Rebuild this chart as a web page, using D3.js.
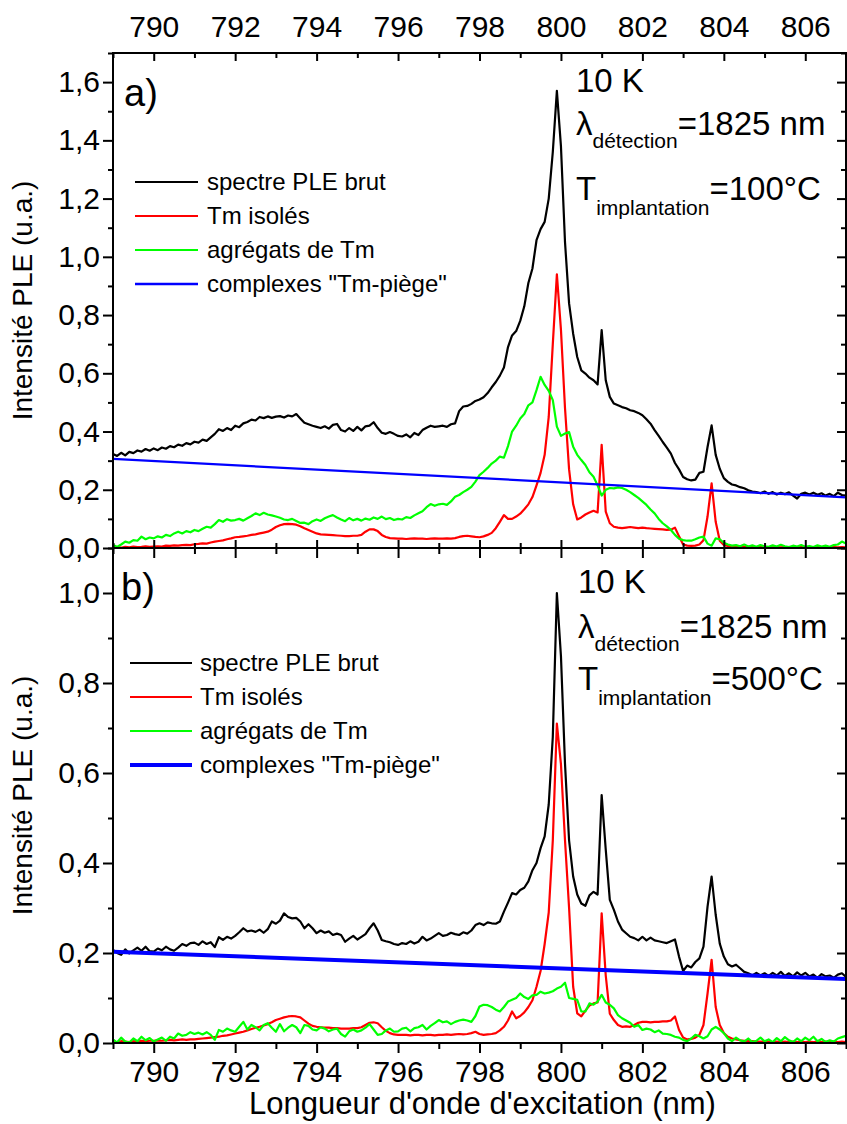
<!DOCTYPE html>
<html><head><meta charset="utf-8">
<script src="https://cdn.jsdelivr.net/npm/d3@7"></script>
<style>
body{margin:0;background:#fff}
svg text{font-family:"Liberation Sans",Arial,Helvetica,sans-serif;fill:#000}
</style>
</head><body>
<svg id="chart" width="847" height="1124"></svg>
<script>
// ---------- DATA ----------
const wlStart = 789, wlStep = 0.1, wlCount = 181;       // excitation wavelength grid (nm)
const xTickLabels = [790,792,794,796,798,800,802,804,806];
const xMinorTicks = [789,791,793,795,797,799,801,803,805,807];
const yTicksA = [0,0.2,0.4,0.6,0.8,1.0,1.2,1.4,1.6];
const yTicksB = [0,0.2,0.4,0.6,0.8,1.0];
const seriesNames = ["spectre PLE brut","Tm isolés","agrégats de Tm","complexes \"Tm-piège\""];
const seriesColors = ["#000000","#ff0000","#00ff00","#0000ff"];

// panel a) T implantation = 100°C
const aBrut = [0.323,0.316,0.327,0.318,0.330,0.326,0.335,0.331,0.340,0.334,0.342,
0.336,0.345,0.341,0.350,0.346,0.355,0.351,0.360,0.356,0.365,
0.362,0.372,0.368,0.380,0.392,0.408,0.402,0.412,0.405,0.420,
0.415,0.428,0.433,0.441,0.438,0.450,0.446,0.452,0.447,0.451,
0.453,0.448,0.455,0.452,0.460,0.445,0.430,0.425,0.420,0.416,
0.412,0.418,0.410,0.423,0.426,0.405,0.400,0.412,0.402,0.416,
0.404,0.418,0.420,0.432,0.412,0.396,0.392,0.398,0.392,0.385,
0.383,0.390,0.380,0.395,0.388,0.405,0.413,0.420,0.416,0.418,
0.420,0.416,0.425,0.428,0.470,0.486,0.488,0.495,0.505,0.510,
0.518,0.532,0.552,0.570,0.592,0.620,0.690,0.730,0.745,0.780,
0.830,0.910,0.960,1.057,1.095,1.120,1.200,1.360,1.570,1.380,
1.050,0.840,0.736,0.656,0.610,0.599,0.585,0.576,0.562,0.748,
0.576,0.519,0.496,0.490,0.484,0.480,0.473,0.470,0.464,0.456,
0.442,0.427,0.405,0.385,0.364,0.345,0.324,0.292,0.270,0.244,
0.236,0.232,0.235,0.258,0.262,0.347,0.421,0.320,0.272,0.240,
0.227,0.218,0.215,0.209,0.205,0.198,0.194,0.192,0.188,0.194,
0.186,0.192,0.184,0.190,0.185,0.191,0.180,0.170,0.186,0.190,
0.184,0.190,0.183,0.188,0.180,0.186,0.178,0.190,0.182,0.180];
const aIsoles = [0.002,0.003,0.001,0.004,0.002,0.005,0.003,0.004,0.006,0.004,0.005,
0.006,0.005,0.008,0.007,0.009,0.008,0.010,0.011,0.010,0.013,
0.014,0.016,0.015,0.019,0.022,0.024,0.026,0.030,0.033,0.037,
0.038,0.040,0.042,0.045,0.047,0.050,0.053,0.056,0.063,0.072,
0.078,0.082,0.083,0.082,0.080,0.075,0.068,0.062,0.056,0.050,
0.047,0.046,0.045,0.044,0.043,0.042,0.041,0.041,0.042,0.042,
0.045,0.056,0.064,0.064,0.058,0.045,0.038,0.034,0.033,0.032,
0.032,0.031,0.032,0.033,0.032,0.032,0.031,0.032,0.033,0.032,
0.032,0.033,0.032,0.034,0.038,0.041,0.042,0.040,0.038,0.037,
0.040,0.045,0.052,0.068,0.090,0.113,0.100,0.100,0.108,0.118,
0.133,0.150,0.175,0.215,0.258,0.320,0.450,0.700,0.940,0.750,
0.480,0.270,0.150,0.098,0.105,0.115,0.122,0.128,0.122,0.354,
0.125,0.085,0.073,0.070,0.068,0.070,0.072,0.070,0.068,0.070,
0.068,0.067,0.066,0.065,0.064,0.062,0.063,0.070,0.040,0.012,
0.008,0.007,0.008,0.012,0.027,0.108,0.222,0.090,0.025,0.010,
0.007,0.005,0.004,0.004,0.003,0.004,0.003,0.002,0.003,0.002,
0.003,0.002,0.003,0.002,0.003,0.002,0.003,0.002,0.003,0.002,
0.003,0.002,0.003,0.002,0.003,0.002,0.003,0.002,0.003,0.002];
const aAgregats = [0.010,0.004,0.012,0.022,0.018,0.027,0.025,0.039,0.030,0.036,0.033,
0.040,0.036,0.045,0.041,0.050,0.056,0.050,0.058,0.054,0.062,
0.058,0.066,0.073,0.070,0.082,0.096,0.090,0.099,0.094,0.096,
0.100,0.094,0.102,0.110,0.119,0.113,0.121,0.115,0.112,0.108,
0.104,0.098,0.096,0.100,0.093,0.086,0.087,0.082,0.092,0.098,
0.093,0.102,0.108,0.113,0.105,0.098,0.092,0.103,0.095,0.100,
0.094,0.101,0.097,0.105,0.100,0.108,0.099,0.103,0.096,0.100,
0.098,0.106,0.103,0.112,0.119,0.126,0.140,0.151,0.145,0.150,
0.152,0.148,0.160,0.176,0.182,0.192,0.200,0.210,0.228,0.250,
0.262,0.275,0.290,0.300,0.314,0.310,0.350,0.400,0.420,0.445,
0.460,0.490,0.500,0.542,0.588,0.560,0.540,0.508,0.417,0.385,
0.393,0.398,0.348,0.320,0.302,0.285,0.260,0.245,0.215,0.180,
0.200,0.206,0.205,0.208,0.206,0.200,0.192,0.182,0.172,0.160,
0.148,0.132,0.119,0.100,0.085,0.074,0.062,0.045,0.032,0.027,
0.025,0.025,0.030,0.036,0.039,0.015,0.008,0.033,0.030,0.018,
0.012,0.008,0.010,0.006,0.012,0.005,0.009,0.004,0.010,0.006,
0.004,0.009,0.005,0.011,0.006,0.003,0.008,0.005,0.010,0.004,
0.007,0.003,0.009,0.005,0.008,0.004,0.010,0.012,0.022,0.015];
const aPiegeEnds = [0.306, 0.174];   // straight line at 789 nm and 807 nm

// panel b) T implantation = 500°C
const bBrut = [0.207,0.200,0.196,0.208,0.199,0.206,0.212,0.205,0.214,0.204,0.203,
0.210,0.206,0.214,0.208,0.205,0.212,0.220,0.216,0.222,0.223,
0.218,0.226,0.220,0.224,0.213,0.235,0.229,0.236,0.232,0.238,
0.246,0.255,0.248,0.250,0.247,0.252,0.245,0.253,0.270,0.265,
0.272,0.288,0.280,0.277,0.278,0.270,0.255,0.264,0.255,0.244,
0.250,0.245,0.248,0.240,0.243,0.240,0.225,0.232,0.238,0.230,
0.236,0.242,0.255,0.266,0.250,0.229,0.226,0.224,0.220,0.218,
0.222,0.220,0.226,0.221,0.225,0.236,0.228,0.232,0.238,0.244,
0.238,0.240,0.245,0.242,0.240,0.246,0.243,0.250,0.262,0.266,
0.262,0.268,0.266,0.265,0.270,0.292,0.312,0.333,0.330,0.340,
0.345,0.359,0.384,0.400,0.433,0.459,0.530,0.680,1.000,0.860,
0.620,0.450,0.370,0.330,0.310,0.305,0.328,0.336,0.330,0.551,
0.430,0.318,0.296,0.270,0.252,0.244,0.236,0.233,0.228,0.236,
0.228,0.234,0.228,0.226,0.224,0.222,0.226,0.230,0.192,0.160,
0.172,0.168,0.180,0.188,0.214,0.303,0.370,0.285,0.221,0.192,
0.175,0.170,0.174,0.166,0.158,0.155,0.150,0.156,0.150,0.155,
0.149,0.156,0.150,0.158,0.149,0.155,0.148,0.157,0.150,0.156,
0.148,0.152,0.145,0.153,0.148,0.150,0.145,0.152,0.155,0.147];
const bIsoles = [0.003,0.002,0.004,0.003,0.002,0.004,0.003,0.005,0.004,0.005,0.005,
0.006,0.005,0.006,0.007,0.006,0.007,0.008,0.007,0.008,0.008,
0.009,0.010,0.011,0.012,0.013,0.014,0.016,0.017,0.019,0.021,
0.023,0.025,0.028,0.031,0.034,0.036,0.039,0.042,0.046,0.051,
0.054,0.057,0.059,0.060,0.059,0.057,0.050,0.043,0.038,0.036,
0.035,0.034,0.034,0.033,0.033,0.032,0.032,0.032,0.033,0.033,
0.035,0.040,0.045,0.046,0.044,0.035,0.027,0.022,0.019,0.018,
0.018,0.018,0.017,0.018,0.018,0.017,0.018,0.018,0.017,0.018,
0.018,0.019,0.018,0.019,0.020,0.019,0.020,0.022,0.025,0.020,
0.018,0.019,0.020,0.022,0.028,0.036,0.050,0.070,0.055,0.060,
0.068,0.080,0.095,0.125,0.160,0.220,0.290,0.450,0.710,0.620,
0.450,0.300,0.125,0.066,0.059,0.072,0.083,0.088,0.090,0.288,
0.150,0.065,0.051,0.040,0.036,0.037,0.036,0.040,0.045,0.047,
0.047,0.046,0.047,0.047,0.048,0.048,0.050,0.059,0.029,0.012,
0.008,0.009,0.012,0.018,0.040,0.110,0.185,0.080,0.040,0.022,
0.014,0.010,0.008,0.006,0.005,0.004,0.004,0.003,0.003,0.003,
0.003,0.002,0.003,0.002,0.003,0.002,0.003,0.002,0.003,0.002,
0.003,0.002,0.003,0.002,0.003,0.002,0.003,0.002,0.003,0.002];
const bAgregats = [0.008,0.001,0.012,0.003,0.001,0.010,0.004,0.014,0.006,0.011,0.003,
0.008,0.012,0.005,0.014,0.010,0.021,0.016,0.018,0.024,0.020,
0.023,0.019,0.024,0.018,0.007,0.029,0.025,0.032,0.028,0.025,
0.036,0.047,0.030,0.040,0.035,0.028,0.040,0.044,0.034,0.025,
0.042,0.026,0.034,0.040,0.035,0.022,0.040,0.038,0.030,0.028,
0.035,0.032,0.026,0.030,0.032,0.020,0.014,0.026,0.030,0.025,
0.028,0.034,0.042,0.030,0.018,0.020,0.028,0.032,0.025,0.026,
0.032,0.034,0.026,0.033,0.035,0.040,0.030,0.038,0.044,0.051,
0.046,0.048,0.042,0.047,0.050,0.052,0.050,0.047,0.060,0.081,
0.085,0.084,0.080,0.074,0.070,0.080,0.092,0.096,0.100,0.110,
0.102,0.098,0.106,0.107,0.114,0.110,0.112,0.115,0.121,0.125,
0.134,0.100,0.098,0.096,0.070,0.070,0.088,0.085,0.092,0.107,
0.090,0.085,0.077,0.062,0.055,0.050,0.045,0.036,0.040,0.029,
0.032,0.030,0.024,0.028,0.021,0.020,0.018,0.014,0.012,0.007,
0.004,0.010,0.018,0.015,0.010,0.015,0.030,0.036,0.030,0.022,
0.010,0.004,0.012,0.006,0.003,0.010,0.002,0.005,0.012,0.004,
0.008,0.002,0.011,0.004,0.013,0.006,0.002,0.010,0.004,0.012,
0.006,0.014,0.004,0.009,0.002,0.006,0.003,0.010,0.013,0.016];
const bPiegeEnds = [0.203, 0.142];

// ---------- CHART ----------
const wavelength = d3.range(wlCount).map(i => +(wlStart + i * wlStep).toFixed(1));
const svg = d3.select("#chart");
const FONT = '"Liberation Sans",Arial,Helvetica,sans-serif';
const L = 113, R = 846;
const x = d3.scaleLinear().domain([789, 807]).range([L, R]);
const fmt = d => d3.format(".1f")(d).replace(".", ",");

const panels = [
  {key:"a", top:53, bottom:548, ymax:1.7, ticks:yTicksA,
   series:[aBrut, aIsoles, aAgregats], piege:aPiegeEnds, piegeW:2.2,
   label:"a)", labelPos:[124,106], legendX:[135,198,207], legendY:182, legendBlueW:2.5,
   ann:{x:576, y1:92, y2:135, y3:200, temp:"=100°C"}},
  {key:"b", top:548, bottom:1043, ymax:1.1, ticks:yTicksB,
   series:[bBrut, bIsoles, bAgregats], piege:bPiegeEnds, piegeW:4,
   label:"b)", labelPos:[121,600], legendX:[130,192,200], legendY:663, legendBlueW:4,
   ann:{x:578, y1:593, y2:638, y3:690, temp:"=500°C"}}
];

panels.forEach((p, pi) => {
  const y = d3.scaleLinear().domain([0, p.ymax]).range([p.bottom, p.top]);
  const minor = d3.range(1, Math.round(p.ymax*10)+1, 2).map(v => v/10);
  const g = svg.append("g");

  g.append("clipPath").attr("id", "clip"+p.key)
    .append("rect").attr("x", L).attr("y", p.top).attr("width", R-L).attr("height", p.bottom-p.top);

  const line = d3.line().x((d,i) => x(wavelength[i])).y(d => y(d));
  const plot = g.append("g").attr("clip-path", `url(#clip${p.key})`);
  p.series.forEach((s, si) => {
    plot.append("path").datum(s).attr("d", line)
      .attr("fill","none").attr("stroke", seriesColors[si]).attr("stroke-width", 2.2)
      .attr("stroke-linejoin","round");
  });
  plot.append("path").datum(p.piege)
    .attr("d", d3.line().x((d,i) => x(i ? 807 : 789)).y(d => y(d)))
    .attr("fill","none").attr("stroke", seriesColors[3]).attr("stroke-width", p.piegeW);

  // left axis
  g.append("g").attr("transform", `translate(${L},0)`)
    .call(d3.axisLeft(y).tickValues(p.ticks).tickSize(10).tickSizeOuter(0).tickPadding(3).tickFormat(fmt));
  g.append("g").attr("transform", `translate(${L},0)`)
    .call(d3.axisLeft(y).tickValues(minor).tickSize(5).tickSizeOuter(0).tickFormat(""));
  // right axis (inward)
  g.append("g").attr("transform", `translate(${R},0)`)
    .call(d3.axisRight(y).tickValues(p.ticks).tickSize(-9).tickSizeOuter(0).tickFormat(""));
  g.append("g").attr("transform", `translate(${R},0)`)
    .call(d3.axisRight(y).tickValues(minor).tickSize(-5).tickSizeOuter(0).tickFormat(""));

  if (pi === 0) {
    g.append("g").attr("transform", `translate(0,${p.top})`)
      .call(d3.axisTop(x).tickValues(xTickLabels).tickSize(-8).tickSizeOuter(0).tickPadding(16).tickFormat(d3.format("d")));
    g.append("g").attr("transform", `translate(0,${p.top})`)
      .call(d3.axisTop(x).tickValues(xMinorTicks).tickSize(-5).tickSizeOuter(0).tickFormat(""));
    g.append("g").attr("transform", `translate(0,${p.bottom})`)
      .call(d3.axisBottom(x).tickValues(xTickLabels).tickSize(10).tickSizeOuter(0).tickFormat(""));
    g.append("g").attr("transform", `translate(0,${p.bottom})`)
      .call(d3.axisTop(x).tickValues(xTickLabels).tickSize(8).tickSizeOuter(0).tickFormat(""));
    g.append("g").attr("transform", `translate(0,${p.bottom})`)
      .call(d3.axisBottom(x).tickValues(xMinorTicks).tickSize(6).tickSizeOuter(0).tickFormat(""));
    g.append("g").attr("transform", `translate(0,${p.bottom})`)
      .call(d3.axisTop(x).tickValues(xMinorTicks).tickSize(5).tickSizeOuter(0).tickFormat(""));
  } else {
    g.append("g").attr("transform", `translate(0,${p.bottom})`)
      .call(d3.axisBottom(x).tickValues(xTickLabels).tickSize(10).tickSizeOuter(0).tickPadding(8).tickFormat(d3.format("d")));
    g.append("g").attr("transform", `translate(0,${p.bottom})`)
      .call(d3.axisBottom(x).tickValues(xMinorTicks).tickSize(6).tickSizeOuter(0).tickFormat(""));
  }

  g.append("rect").attr("x", L).attr("y", p.top).attr("width", R-L).attr("height", p.bottom-p.top)
    .attr("fill","none").attr("stroke","#000").attr("stroke-width",2);

  g.append("text").attr("transform", `translate(32,${(p.top+p.bottom)/2}) rotate(-90)`)
    .attr("text-anchor","middle").attr("font-size",28).text("Intensité PLE (u.a.)");

  g.append("text").attr("x", p.labelPos[0]).attr("y", p.labelPos[1]).attr("font-size",38).text(p.label);

  seriesNames.forEach((n, i) => {
    const ly = p.legendY + i*34;
    g.append("line").attr("x1", p.legendX[0]).attr("x2", p.legendX[1]).attr("y1", ly).attr("y2", ly)
      .attr("stroke", seriesColors[i]).attr("stroke-width", i===3 ? p.legendBlueW : 2);
    g.append("text").attr("x", p.legendX[2]).attr("y", ly+8).attr("font-size",24).text(n);
  });

  const a = p.ann;
  g.append("text").attr("x", a.x).attr("y", a.y1).attr("font-size",33).text("10 K");
  const t2 = g.append("text").attr("x", a.x).attr("y", a.y2).attr("font-size",33);
  t2.append("tspan").text("λ");
  t2.append("tspan").attr("font-size",21).attr("dy",13).text("détection");
  t2.append("tspan").attr("dy",-13).text("=1825 nm");
  const t3 = g.append("text").attr("x", a.x).attr("y", a.y3).attr("font-size",33);
  t3.append("tspan").text("T");
  t3.append("tspan").attr("font-size",21).attr("dy",15).text("implantation");
  t3.append("tspan").attr("dy",-15).text(a.temp);
});

svg.selectAll(".tick line").attr("stroke","#000").attr("stroke-width",2);
svg.selectAll(".domain").remove();
svg.selectAll(".tick text").attr("font-size",30).attr("font-family",FONT).attr("fill","#000");
svg.selectAll("g").filter(function(){ return this.getAttribute("font-family"); }).attr("font-family", FONT);

svg.append("text").attr("x", (L+R)/2+3).attr("y", 1114).attr("text-anchor","middle")
  .attr("font-size",31).text("Longueur d'onde d'excitation (nm)");
</script>
</body></html>
